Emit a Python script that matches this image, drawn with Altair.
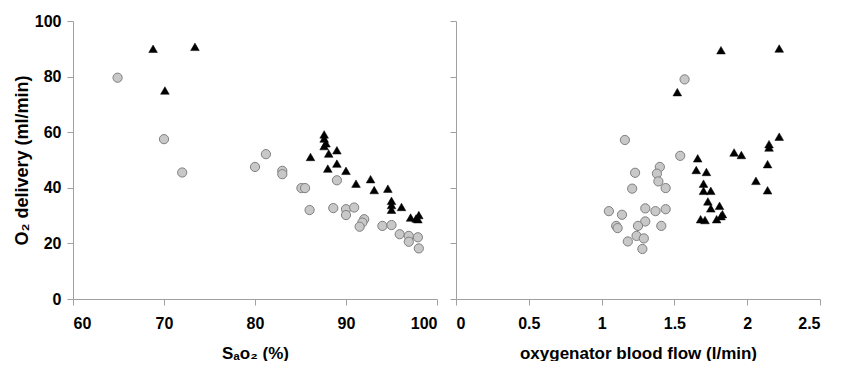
import altair as alt
import pandas as pd

# Left panel: SaO2 (%) vs O2 delivery
left_circle_x = [64.9, 70.0, 72.0, 81.2, 80.0, 83.0, 83.0, 85.1, 85.5, 89.0, 86.0, 88.6, 90.0,
                 90.0, 90.9, 92.0, 91.8, 91.5, 94.0, 95.0, 95.9, 96.9, 97.9, 96.9, 98.0]
left_circle_y = [79.6, 57.5, 45.5, 52.1, 47.5, 46.1, 44.9, 39.9, 39.9, 42.7, 32.0, 32.7, 32.3,
                 30.2, 32.9, 28.7, 27.5, 26.0, 26.3, 26.6, 23.3, 22.7, 22.2, 20.6, 18.2]
left_tri_x = [68.8, 73.4, 70.1, 87.6, 87.6, 87.8, 87.6, 86.1, 88.1, 89.0, 88.0, 89.0, 90.0,
              91.1, 92.7, 93.1, 94.6, 95.0, 95.0, 95.0, 96.1, 97.1, 98.0, 97.9, 97.7]
left_tri_y = [90.0, 90.7, 75.0, 59.2, 57.7, 56.0, 55.0, 51.1, 52.3, 53.5, 46.9, 48.7, 46.1,
              41.5, 43.1, 39.2, 39.7, 35.3, 33.8, 32.1, 33.1, 29.3, 30.2, 28.7, 29.0]

# Right panel: oxygenator blood flow (l/min) vs O2 delivery
right_circle_x = [1.57, 1.16, 1.54, 1.40, 1.23, 1.38, 1.39, 1.21, 1.44, 1.05, 1.14, 1.30,
                  1.37, 1.44, 1.30, 1.41, 1.25, 1.10, 1.11, 1.24, 1.29, 1.18, 1.28]
right_circle_y = [79.0, 57.2, 51.5, 47.5, 45.4, 45.1, 42.3, 39.7, 39.9, 31.6, 30.3, 32.6,
                  31.6, 32.3, 27.9, 26.3, 26.3, 26.3, 25.5, 22.7, 21.8, 20.7, 18.0]
right_tri_x = [1.82, 2.22, 1.52, 2.22, 2.15, 2.15, 1.91, 1.96, 1.66, 2.14, 1.65, 1.72, 2.06,
               1.70, 2.14, 1.70, 1.75, 1.73, 1.81, 1.75, 1.83, 1.82, 1.79, 1.68, 1.71]
right_tri_y = [89.5, 90.1, 74.4, 58.4, 55.7, 54.5, 52.7, 51.8, 50.6, 48.5, 46.4, 45.7, 42.5,
               41.5, 39.1, 38.9, 38.9, 35.1, 33.5, 32.6, 30.5, 29.8, 28.7, 28.7, 28.4]

y_ticks = [0, 20, 40, 60, 80, 100]
left_x_ticks = [60, 70, 80, 90, 100]
right_x_ticks = [0, 0.5, 1, 1.5, 2, 2.5]

FONT = "Liberation Sans"
AXIS_GRAY = "#a0a0a0"
W, H = 364, 278

def axis_common(**kw):
    base = dict(domainColor=AXIS_GRAY, tickColor=AXIS_GRAY, tickSize=6, grid=False,
                labelFont=FONT, labelFontSize=16, labelFontWeight="bold", labelColor="black",
                titleFont=FONT, titleFontSize=17, titleFontWeight="bold", titleColor="black")
    base.update(kw)
    return alt.Axis(**base)

def panel(cx, cy, tx, ty, xdomain, xticks, xfmt, xtitle, show_y):
    dc = pd.DataFrame({"x": cx, "y": cy})
    dt = pd.DataFrame({"x": tx, "y": ty})
    xenc = alt.X("x:Q", scale=alt.Scale(domain=xdomain, nice=False, zero=False),
                 axis=axis_common(values=xticks, format=xfmt, title=xtitle,
                                  labelPadding=10, titlePadding=14))
    if show_y:
        yax = axis_common(values=y_ticks, format="d", title="O₂ delivery (ml/min)",
                          titleFontSize=18, labelPadding=6, titlePadding=3)
    else:
        yax = axis_common(values=y_ticks, title=None, labels=False)
    yenc = alt.Y("y:Q", scale=alt.Scale(domain=[0, 100], nice=False), axis=yax)
    circles = alt.Chart(dc).mark_point(shape="circle", filled=True, fill="#c8c8c8",
                                       stroke="#7f7f7f", strokeWidth=1, size=85,
                                       opacity=1).encode(x=xenc, y=yenc)
    tris = alt.Chart(dt).mark_point(shape="triangle-up", filled=True, fill="black",
                                    stroke="black", strokeWidth=0.5, size=75,
                                    opacity=1).encode(x=xenc, y=yenc)
    return alt.layer(circles, tris).properties(width=W, height=H)

left = panel(left_circle_x, left_circle_y, left_tri_x, left_tri_y, [60, 100],
             left_x_ticks, "d", "Sₐo₂ (%)", True)
right = panel(right_circle_x, right_circle_y, right_tri_x, right_tri_y, [0, 2.5],
              right_x_ticks, "~g", "oxygenator blood flow (l/min)", False)

chart = alt.hconcat(left, right, spacing=11).configure_view(stroke=None).properties(
    padding={"left": 5, "top": 5, "right": 0, "bottom": 0}, background="white")

chart.save("out.html", embed_options={"renderer": "svg", "actions": False})
